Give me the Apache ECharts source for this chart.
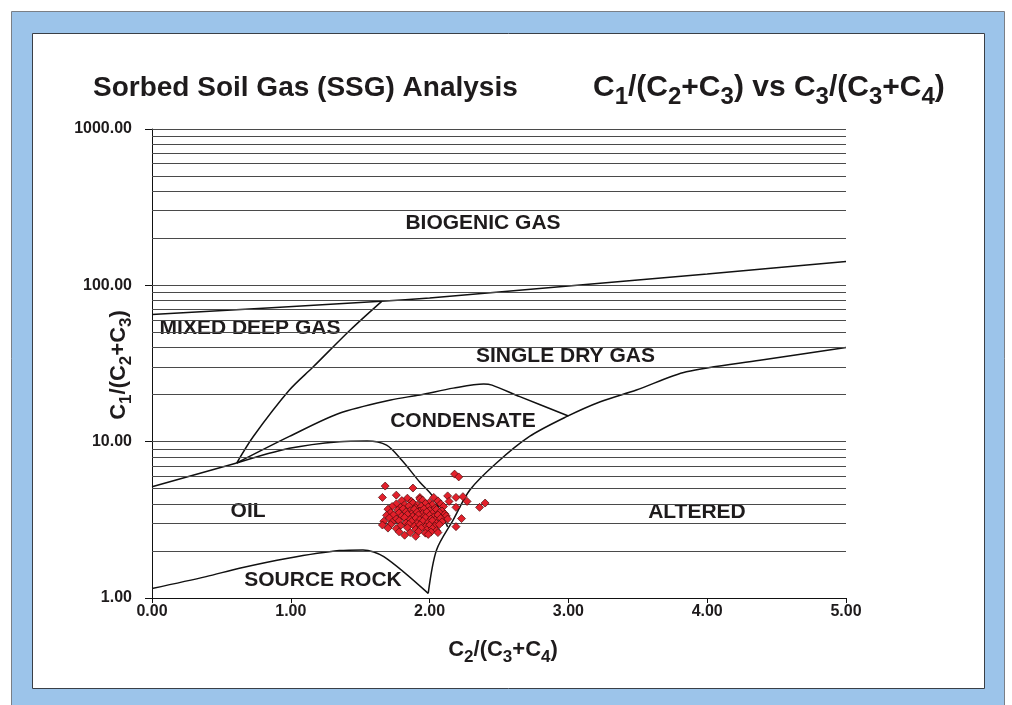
<!DOCTYPE html>
<html>
<head>
<meta charset="utf-8">
<script src="https://cdn.jsdelivr.net/npm/echarts@6/dist/echarts.min.js"></script>
<style>
html,body{margin:0;padding:0;background:#fff;}
#chart{width:1012px;height:705px;}
</style>
</head>
<body>
<div id="chart"></div>
<script>
// ---- data ----
const gridValues = [2,3,4,5,6,7,8,9,10,20,30,40,50,60,70,80,90,100,200,300,400,500,600,700,800,900,1000];

const biogenicLine = [[0,65],[1.65,79],[2,83],[3,99],[4,118],[5,142]];
const mixedDeepLine = [[0.61,7.3],[0.73,10.8],[0.99,21.4],[1.16,30],[1.43,52],[1.655,79]];
const leftLine = [[0,5.15],[0.61,7.3]];
const oilTopLine = [[0.61,7.3],[0.99,9.07],[1.35,10.0],[1.55,10.1],[1.69,9.5],[1.80,7.6],[1.93,5.5],[2.02,4.5],[2.13,2.85]];
const condensateLine = [[0.61,7.3],[0.99,10.8],[1.35,15.2],[1.72,18.5],[1.93,19.9],[2.17,22],[2.39,23.4],[2.45,23.0],[2.65,19.4],[3.0,14.6]];
const sourceRockLine = [[0,1.15],[0.39,1.37],[0.63,1.55],[0.97,1.79],[1.35,2.01],[1.52,2.03],[1.67,1.84],[1.99,1.07]];
const alteredLine = [[1.99,1.07],[2.05,2.03],[2.17,3.16],[2.29,4.91],[2.48,7.28],[2.72,10.8],[2.99,14.5],[3.23,18.0],[3.49,21.4],[3.85,28.0],[4.38,33.2],[5.0,40]];

const samples = [
 [2.18,6.2],[2.21,5.95],[1.68,5.2],[1.88,5.05],[1.66,4.4],[1.76,4.55],[1.93,4.4],[2.13,4.5],[2.19,4.4],[2.24,4.45],[2.14,4.15],[2.27,4.15],[2.40,4.05],[2.36,3.8],[2.19,3.8],[2.23,3.22],[2.19,2.86],
 [1.84,4.35],[1.93,4.3],[2.03,4.4],
 [1.80,4.2],[1.87,4.15],[1.95,4.22],[2.00,4.1],[2.06,4.18],
 [1.76,4.0],[1.82,3.95],[1.88,4.05],[1.91,3.92],[1.97,4.02],[2.02,3.95],[2.08,4.0],
 [1.73,3.85],[1.79,3.8],[1.85,3.88],[1.90,3.78],[1.94,3.86],[1.99,3.82],[2.04,3.75],[2.10,3.85],
 [1.70,3.7],[1.77,3.65],[1.81,3.72],[1.86,3.62],[1.89,3.7],[1.93,3.6],[1.96,3.72],[2.00,3.63],[2.05,3.68],[2.09,3.6],
 [1.72,3.52],[1.78,3.5],[1.83,3.56],[1.87,3.45],[1.91,3.54],[1.95,3.47],[1.98,3.55],[2.02,3.48],[2.07,3.52],[2.11,3.45],
 [1.69,3.38],[1.74,3.4],[1.80,3.35],[1.84,3.42],[1.88,3.33],[1.92,3.4],[1.96,3.32],[2.00,3.38],[2.03,3.3],[2.06,3.4],[2.12,3.35],
 [1.71,3.25],[1.76,3.2],[1.82,3.27],[1.86,3.18],[1.90,3.24],[1.93,3.17],[1.97,3.26],[2.01,3.2],[2.04,3.15],[2.08,3.24],[2.13,3.2],
 [1.67,3.1],[1.73,3.05],[1.78,3.12],[1.83,3.02],[1.87,3.08],[1.91,3.0],[1.95,3.1],[1.99,3.04],[2.02,3.12],[2.05,3.0],[2.09,3.07],
 [1.66,2.93],[1.72,2.95],[1.79,2.9],[1.85,2.96],[1.89,2.88],[1.93,2.94],[1.97,2.86],[2.00,2.92],[2.04,2.88],[2.07,2.95],
 [1.70,2.8],[1.76,2.78],[1.84,2.82],[1.90,2.75],[1.94,2.8],[1.98,2.73],[2.02,2.78],[2.05,2.7],
 [1.78,2.65],[1.86,2.62],[1.92,2.66],[1.97,2.6],[2.01,2.64],[2.06,2.62],
 [1.82,2.52],[1.90,2.48],[1.99,2.55]
];

const regionNames = ['BIOGENIC GAS','MIXED DEEP GAS','SINGLE DRY GAS','CONDENSATE','OIL','ALTERED','SOURCE ROCK'];
const regionAnchors = [[2.385,250],[0.706,53.4],[2.979,35.3],[2.24,13.6],[0.692,3.6],[3.926,3.55],[1.232,1.3]];

// ---- chart ----
const FONT = '"Liberation Sans", Arial, Helvetica, sans-serif';
const TXT = '#1e1b1c';
const chart = echarts.init(document.getElementById('chart'), null, {renderer:'canvas'});

function curve(name, data, smooth){
  return {
    name, type:'line', data, smooth: smooth, symbol:'none', z:3,
    lineStyle:{color:'#111', width:1.5}, silent:true, animation:false
  };
}
function subRich(mainSize, subSize, drop){
  const mainLH = mainSize;
  const subLH = Math.round(mainSize/2 + drop + subSize/2);
  return {
    m:{font:'bold '+mainSize+'px '+FONT, fill:TXT, color:TXT, lineHeight:mainLH, verticalAlign:'top'},
    s:{font:'bold '+subSize+'px '+FONT, fill:TXT, color:TXT, lineHeight:subLH, verticalAlign:'bottom'}
  };
}

const option = {
  backgroundColor:'#ffffff',
  animation:false,
  grid:{left:152, top:129, width:694, height:469, containLabel:false},
  xAxis:{
    type:'value', min:0, max:5, interval:1,
    axisLine:{show:true, onZero:false, lineStyle:{color:'#111', width:1}},
    axisTick:{show:true, length:5, lineStyle:{color:'#111'}},
    axisLabel:{margin:6, color:TXT, fontFamily:FONT, fontWeight:'bold', fontSize:16, formatter:v=>v.toFixed(2)},
    splitLine:{show:false}
  },
  yAxis:{
    type:'log', logBase:10, min:1, max:1000,
    axisLine:{show:true, lineStyle:{color:'#111', width:1}},
    axisTick:{show:true, length:7, lineStyle:{color:'#111'}},
    axisLabel:{margin:20, color:TXT, fontFamily:FONT, fontWeight:'bold', fontSize:16, formatter:v=>Number(v).toFixed(2)},
    splitLine:{show:false}
  },
  graphic:[
    {type:'rect', z:-20, shape:{x:11.5, y:11.5, width:993, height:710}, style:{fill:'#9cc4ea', stroke:'#7a7f86', lineWidth:1}},
    {type:'rect', z:-19, shape:{x:32.5, y:33.5, width:952, height:655}, style:{fill:'#ffffff', stroke:'#3a3f46', lineWidth:1}},
    {type:'text', z:10, x:93, y:74, style:{text:'Sorbed Soil Gas (SSG) Analysis', font:'bold 28px '+FONT, fill:TXT, textAlign:'left', textVerticalAlign:'top'}},
    {type:'text', z:10, x:593, y:73, style:{
      text:'{m|C}{s|1}{m|/(C}{s|2}{m|+C}{s|3}{m|) vs C}{s|3}{m|/(C}{s|3}{m|+C}{s|4}{m|)}',
      textAlign:'left', textVerticalAlign:'top',
      rich: subRich(30, 24, 9)}},
    {type:'text', z:10, x:503, y:639, style:{
      text:'{m|C}{s|2}{m|/(C}{s|3}{m|+C}{s|4}{m|)}',
      textAlign:'center', textVerticalAlign:'top',
      rich: subRich(22, 17, 7)}},
    {type:'text', z:10, x:108, y:365, rotation:Math.PI/2, style:{
      text:'{m|C}{s|1}{m|/(C}{s|2}{m|+C}{s|3}{m|)}',
      textAlign:'center', textVerticalAlign:'top',
      rich: subRich(22, 17, 7)}}
  ],
  series:[
    {
      name:'grid', type:'line', data:[], z:1, silent:true, animation:false,
      markLine:{
        silent:true, symbol:['none','none'], animation:false,
        label:{show:false},
        lineStyle:{color:'#4a4a4a', width:1, type:'solid'},
        emphasis:{disabled:true},
        data: gridValues.map(v=>({yAxis:v}))
      }
    },
    curve('biogenic', biogenicLine, 0.2),
    curve('mixed', mixedDeepLine, 0.3),
    curve('left', leftLine, false),
    curve('oilTop', oilTopLine, 0.3),
    curve('condensate', condensateLine, 0.3),
    curve('sourceRock', sourceRockLine, 0.3),
    curve('altered', alteredLine, 0.3),
    {
      name:'labels', type:'scatter', z:4, silent:true, symbolSize:0,
      itemStyle:{opacity:1},
      data: regionNames.map((n,i)=>({name:n, value:regionAnchors[i]})),
      label:{show:true, position:'inside', formatter:p=>p.name, color:TXT, opacity:1, fontFamily:FONT, fontWeight:'bold', fontSize:21}
    },
    {
      name:'samples', type:'scatter', z:5, silent:true, symbol:'diamond', symbolSize:8,
      data: samples,
      itemStyle:{color:'#e3202b', borderColor:'#4a0a0a', borderWidth:0.7, opacity:1}
    }
  ]
};
chart.setOption(option);
</script>
</body>
</html>
